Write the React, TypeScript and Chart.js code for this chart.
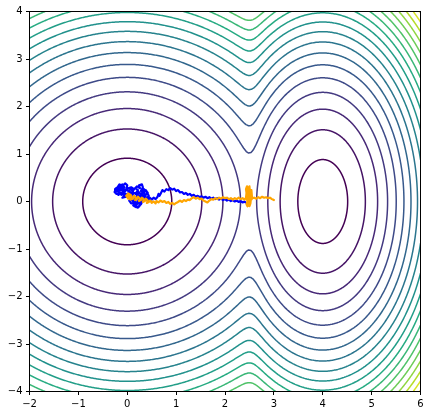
import React, { useEffect, useRef } from 'react';
import { Chart, registerables } from 'chart.js';

Chart.register(...registerables);

// ---- axes ----
const X_TICKS = [-2, -1, 0, 1, 2, 3, 4, 5, 6];
const Y_TICKS = [-4, -3, -2, -1, 0, 1, 2, 3, 4];
const X_RANGE = [-2, 6];
const Y_RANGE = [-4, 4];

// ---- contour field (two wells) ----
const LEVELS = [0.83, 2.33, 3.83, 5.33, 6.83, 8.33, 9.83, 11.33, 12.83, 14.33, 15.83, 17.33, 18.83, 20.33, 21.83, 23.33, 24.83, 26.33, 27.83];
const WELL_CENTER_X = [0, 4];
const WELL_STIFFNESS_X = [1, 3];
const WELL_OFFSET = [0, 0.05];
const SOFTMIN_TEMP = [1.0];

// ---- trajectories ----
const BLUE_X = [0.10, 0.14, 0.08, 0.02, -0.04, -0.08, -0.14, -0.20, -0.16, -0.22, -0.26, -0.23, -0.18, -0.12, -0.06, 0.00, 0.06, 0.10, 0.14, 0.20, 0.24, 0.28, 0.32, 0.36, 0.32, 0.26, 0.20, 0.14, 0.10, 0.16, 0.12, 0.18, 0.24, 0.28, 0.22,
  -0.22, -0.18, -0.14, -0.16, -0.10, -0.06, -0.12, -0.08, -0.02, 0.00, -0.04, -0.10, -0.16, -0.20, -0.25, -0.24, -0.18, -0.12, -0.06, -0.10, -0.02, 0.04, 0.02, 0.08, 0.12, 0.06, 0.10, 0.04, 0.08, 0.14, 0.12, 0.18, 0.16, 0.20, 0.16, 0.22, 0.26, 0.22, 0.26, 0.30, 0.28, 0.32, 0.24, 0.18, 0.22, 0.16, 0.20, 0.26, 0.24, 0.30, 0.32, 0.28, 0.34, 0.38, 0.42, 0.36, 0.40, 0.44, 0.40, 0.34, 0.30, 0.36, 0.42, 0.46, 0.50, 0.54, 0.58, 0.62, 0.64, 0.66, 0.70, 0.72, 0.76, 0.80, 0.84, 0.88, 0.92, 0.96, 1.00, 1.04, 1.08, 1.12, 1.16, 1.20, 1.24, 1.28, 1.32, 1.36, 1.40, 1.44, 1.48, 1.52, 1.56, 1.60, 1.64, 1.68, 1.72, 1.76, 1.80, 1.84, 1.88, 1.92, 1.96, 2.00, 2.04, 2.08, 2.12, 2.16, 2.20, 2.24, 2.28, 2.32, 2.36, 2.40, 2.42];
const BLUE_Y = [0.20, 0.26, 0.30, 0.28, 0.22, 0.28, 0.30, 0.24, 0.18, 0.16, 0.20, 0.26, 0.22, 0.14, 0.18, 0.14, 0.20, 0.14, 0.18, 0.14, 0.20, 0.14, 0.20, 0.16, 0.10, 0.12, 0.06, 0.10, 0.02, -0.04, -0.08, -0.12, -0.10, -0.02, 0.04,
  0.22, 0.28, 0.24, 0.32, 0.36, 0.30, 0.26, 0.20, 0.26, 0.34, 0.38, 0.33, 0.36, 0.30, 0.26, 0.18, 0.14, 0.18, 0.12, 0.08, 0.10, 0.16, 0.22, 0.26, 0.20, 0.12, 0.06, 0.02, -0.04, -0.02, 0.06, 0.10, 0.02, -0.06, -0.10, -0.13, -0.08, 0.00, 0.06, 0.00, -0.06, 0.04, 0.12, 0.18, 0.24, 0.28, 0.32, 0.28, 0.34, 0.36, 0.30, 0.22, 0.18, 0.24, 0.18, 0.12, 0.06, 0.12, 0.20, 0.26, 0.16, 0.08, 0.02, 0.08, 0.04, 0.08, 0.05, 0.10, 0.16, 0.12, 0.20, 0.24, 0.21, 0.26, 0.24, 0.28, 0.25, 0.27, 0.22, 0.24, 0.19, 0.20, 0.16, 0.18, 0.14, 0.16, 0.12, 0.14, 0.10, 0.12, 0.09, 0.11, 0.08, 0.10, 0.07, 0.09, 0.06, 0.08, 0.05, 0.07, 0.04, 0.06, 0.03, 0.05, 0.02, 0.04, 0.01, 0.03, 0.00, 0.02, -0.01, 0.01, -0.02, 0.00, -0.02];

const ORANGE_X = [0.00, 0.03, 0.06, 0.02, -0.02, 0.02, 0.07, 0.10, 0.06, 0.12, 0.14, 0.18, 0.16, 0.20, 0.22, 0.26, 0.24, 0.28, 0.30, 0.34, 0.32, 0.36, 0.38, 0.42, 0.40, 0.44, 0.48, 0.50, 0.54, 0.58, 0.60, 0.64, 0.68, 0.72, 0.76, 0.80, 0.84, 0.88, 0.92, 0.96, 1.00, 1.04, 1.08, 1.12, 1.16, 1.20, 1.24, 1.28, 1.32, 1.36, 1.40, 1.44, 1.48, 1.52, 1.56, 1.60, 1.64, 1.68, 1.72, 1.76, 1.80, 1.84, 1.88, 1.92, 1.96, 2.00, 2.04, 2.08, 2.12, 2.16, 2.20, 2.24, 2.28, 2.32, 2.36, 2.40,
  2.43, 2.44, 2.43, 2.45, 2.46, 2.44, 2.46, 2.44, 2.46, 2.48, 2.49, 2.47, 2.49, 2.48, 2.50, 2.51, 2.49, 2.51, 2.50, 2.52, 2.53, 2.52, 2.54, 2.55, 2.54, 2.56,
  2.60, 2.64, 2.68, 2.72, 2.76, 2.80, 2.84, 2.88, 2.92, 2.96, 3.00];
const ORANGE_Y = [0.10, 0.15, 0.10, 0.06, 0.12, 0.17, 0.14, 0.08, 0.04, 0.06, 0.12, 0.08, 0.03, 0.05, 0.10, 0.06, 0.01, 0.03, 0.08, 0.04, -0.01, 0.01, 0.06, 0.02, -0.03, -0.01, 0.02, -0.03, 0.00, -0.04, 0.01, -0.02, 0.02, -0.01, 0.01, -0.03, -0.01, -0.05, -0.03, -0.06, -0.03, -0.01, 0.02, -0.01, 0.03, 0.01, 0.04, 0.03, 0.07, 0.09, 0.06, 0.08, 0.05, 0.06, 0.02, 0.00, -0.02, 0.02, 0.05, 0.04, 0.07, 0.05, 0.08, 0.06, 0.09, 0.07, 0.08, 0.05, 0.07, 0.04, 0.07, 0.05, 0.08, 0.05, 0.07, 0.04,
  0.08, 0.18, 0.26, 0.32, 0.20, 0.10, 0.00, -0.06, -0.10, -0.08, 0.00, 0.10, 0.20, 0.28, 0.32, 0.22, 0.08, -0.02, -0.10, -0.04, 0.06, 0.16, 0.24, 0.12, 0.04, 0.07,
  0.08, 0.06, 0.09, 0.07, 0.10, 0.08, 0.09, 0.07, 0.08, 0.05, 0.03];

const VIRIDIS = ['#440154', '#482475', '#414487', '#355f8d', '#2a788e', '#21918c', '#22a884', '#44bf70', '#7ad151', '#bddf26', '#fde725'];

function hexToRgb(h: string) {
  return [parseInt(h.slice(1, 3), 16), parseInt(h.slice(3, 5), 16), parseInt(h.slice(5, 7), 16)];
}
function viridis(t: number) {
  const s = Math.max(0, Math.min(1, t)) * (VIRIDIS.length - 1);
  const i = Math.min(VIRIDIS.length - 2, Math.floor(s));
  const f = s - i;
  const a = hexToRgb(VIRIDIS[i]);
  const b = hexToRgb(VIRIDIS[i + 1]);
  const c = a.map((v, k) => Math.round(v + (b[k] - v) * f));
  return `rgb(${c[0]},${c[1]},${c[2]})`;
}

// field W(x, y) = y^2 + G(x), G = soft-min of the two wells
function wellG(x: number) {
  const T = SOFTMIN_TEMP[0];
  const e = WELL_CENTER_X.map((c, i) => WELL_STIFFNESS_X[i] * (x - c) * (x - c) + WELL_OFFSET[i]);
  const m = Math.min(...e);
  let s = 0;
  for (const v of e) s += Math.exp(-(v - m) / T);
  return m - T * Math.log(s);
}

type P = { x: number; y: number };

function contourPaths(L: number): P[][] {
  const [x0, x1] = X_RANGE;
  const f = (x: number) => L - wellG(x);
  const step = 0.002;
  const segs: { a: number; aRoot: boolean; b: number; bRoot: boolean }[] = [];
  let inside = f(x0) > 0;
  let start: { x: number; root: boolean } | null = inside ? { x: x0, root: false } : null;
  let prev = x0;
  for (let x = x0 + step; x <= x1 + 1e-9; x += step) {
    const xx = Math.min(x, x1);
    const ins = f(xx) > 0;
    if (ins !== inside) {
      let lo = prev, hi = xx;
      for (let k = 0; k < 50; k++) {
        const mid = (lo + hi) / 2;
        if ((f(mid) > 0) === inside) lo = mid; else hi = mid;
      }
      const r = (lo + hi) / 2;
      if (ins) start = { x: r, root: true };
      else if (start) { segs.push({ a: start.x, aRoot: start.root, b: r, bRoot: true }); start = null; }
      inside = ins;
    }
    prev = xx;
  }
  if (inside && start) segs.push({ a: start.x, aRoot: start.root, b: x1, bRoot: false });

  const paths: P[][] = [];
  const N = 240;
  for (const s of segs) {
    const upper: P[] = [];
    for (let i = 0; i <= N; i++) {
      const t = i / N;
      const x = s.a + (s.b - s.a) * (1 - Math.cos(Math.PI * t)) / 2;
      upper.push({ x, y: Math.sqrt(Math.max(0, f(x))) });
    }
    const lower = upper.map((p) => ({ x: p.x, y: -p.y }));
    if (s.aRoot && s.bRoot) paths.push([...upper, ...lower.slice(0, -1).reverse()]);
    else if (!s.aRoot && s.bRoot) paths.push([...upper, ...lower.slice(0, -1).reverse()]);
    else if (s.aRoot && !s.bRoot) paths.push([...upper.slice().reverse(), ...lower.slice(1)]);
    else { paths.push(upper); paths.push(lower); }
  }
  return paths;
}

const fmt = (v: number) => (v < 0 ? '\u2212' + Math.abs(v) : String(v));

const framePlugin = {
  id: 'frame',
  afterDraw(chart: any) {
    const { ctx, chartArea } = chart;
    const { left, top, right, bottom } = chartArea;
    ctx.save();
    ctx.strokeStyle = '#000';
    ctx.lineWidth = 1;
    ctx.strokeRect(left, top, right - left, bottom - top);
    ctx.restore();
  },
};

// tiny tension forces Chart.js to draw every vertex (no per-pixel fast path)
const LINE_STYLE = { pointRadius: 0, showLine: true, tension: 0.0001, clip: 0, borderJoinStyle: 'round', borderCapStyle: 'round' };

export default function App() {
  const ref = useRef<HTMLCanvasElement>(null);
  useEffect(() => {
    const datasets: any[] = [];
    datasets.push({
      ...LINE_STYLE,
      data: ORANGE_X.map((x, i) => ({ x, y: ORANGE_Y[i] })),
      borderColor: '#ffa500', borderWidth: 2.2, order: 0,
    });
    datasets.push({
      ...LINE_STYLE,
      data: BLUE_X.map((x, i) => ({ x, y: BLUE_Y[i] })),
      borderColor: '#0000ff', borderWidth: 2.2, order: 1,
    });
    LEVELS.forEach((L, k) => {
      const col = viridis(k / (LEVELS.length - 1));
      for (const path of contourPaths(L)) {
        datasets.push({ ...LINE_STYLE, data: path, borderColor: col, borderWidth: 1.5, order: 2 });
      }
    });

    const tickFont = { family: 'DejaVu Sans', size: 10 };
    const chart = new Chart(ref.current as HTMLCanvasElement, {
      type: 'scatter',
      data: { datasets },
      options: {
        responsive: false,
        animation: false,
        devicePixelRatio: 1,
        events: [],
        elements: { line: { capBezierPoints: false } },
        layout: { padding: { left: 0, right: 8.5, top: 11.5, bottom: 0 } },
        plugins: { legend: { display: false }, tooltip: { enabled: false } },
        scales: {
          x: {
            type: 'linear', min: X_RANGE[0], max: X_RANGE[1],
            afterBuildTicks: (s: any) => { s.ticks = X_TICKS.map((v) => ({ value: v })); },
            afterFit: (s: any) => { s.height = 23.5; },
            ticks: { font: tickFont, color: '#000', padding: 3, maxRotation: 0, autoSkip: false, callback: (v: any) => fmt(Number(v)) },
            grid: { drawOnChartArea: false, drawTicks: true, tickLength: 3.5, tickColor: '#000', tickWidth: 1 },
            border: { display: false },
          },
          y: {
            type: 'linear', min: Y_RANGE[0], max: Y_RANGE[1],
            afterBuildTicks: (s: any) => { s.ticks = Y_TICKS.map((v) => ({ value: v })); },
            afterFit: (s: any) => { s.width = 29.5; },
            ticks: { font: tickFont, color: '#000', padding: 3.5, autoSkip: false, callback: (v: any) => fmt(Number(v)) },
            grid: { drawOnChartArea: false, drawTicks: true, tickLength: 3.5, tickColor: '#000', tickWidth: 1 },
            border: { display: false },
          },
        },
      },
      plugins: [framePlugin],
    } as any);
    return () => chart.destroy();
  }, []);

  return (
    <div style={{ position: 'absolute', left: 0, top: 0, width: 429, height: 415, background: '#fff' }}>
      <canvas ref={ref} width={429} height={415} style={{ display: 'block', width: 429, height: 415 }} />
    </div>
  );
}
